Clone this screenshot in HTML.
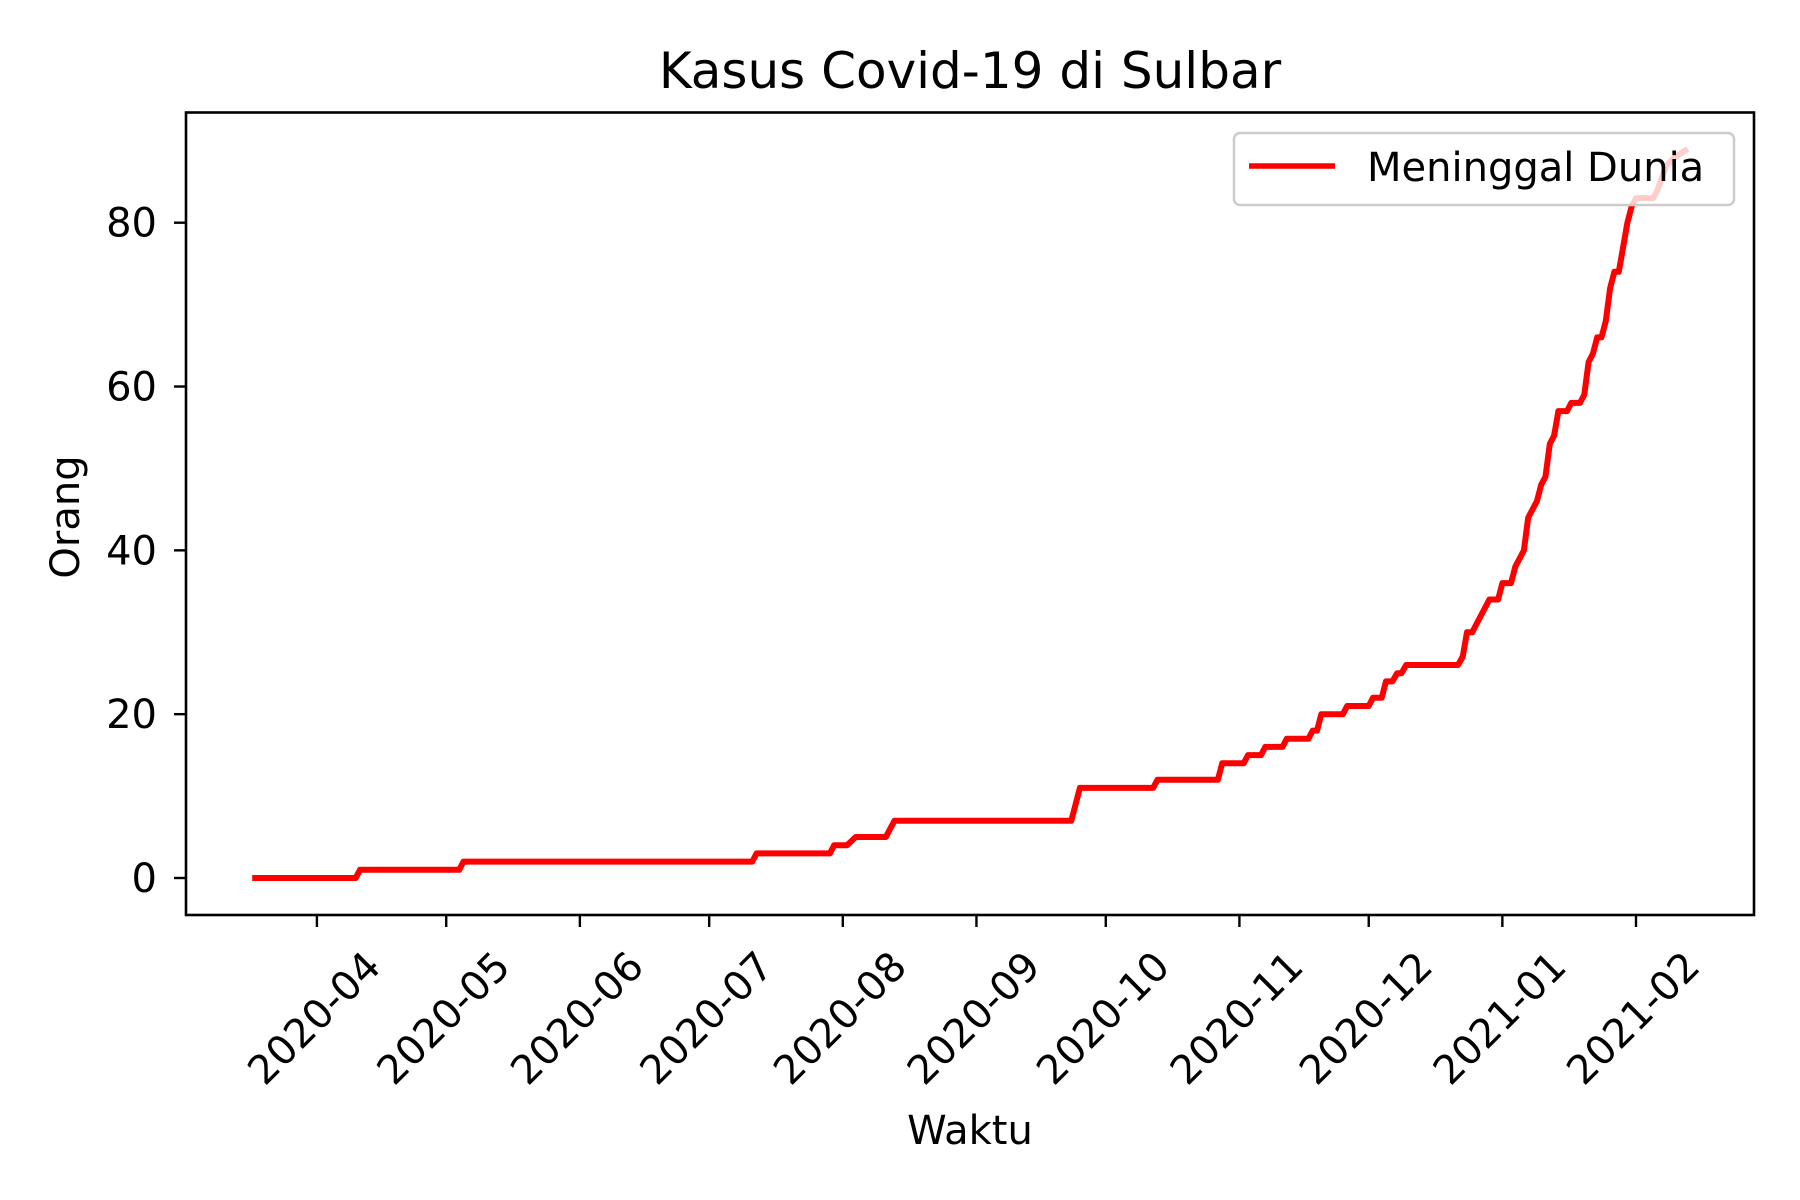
<!DOCTYPE html>
<html><head><meta charset="utf-8"><style>
html,body{margin:0;padding:0;background:#fff;}
svg{display:block;font-family:"DejaVu Sans","Liberation Sans",sans-serif;}
</style></head><body>
<svg id="chart" width="1800" height="1200" viewBox="0 0 1800 1200" xmlns="http://www.w3.org/2000/svg">
<rect width="1800" height="1200" fill="#fff"/>
<text x="970" y="88" font-size="50" text-anchor="middle">Kasus Covid-19 di Sulbar</text>
<g id="lines"></g>
<g id="axes"></g>
<g id="legend">
<rect x="1234" y="133" width="500" height="72" rx="6" fill="#fff" fill-opacity="0.8" stroke="#cccccc" stroke-width="2.5"/>
<line x1="1249" y1="166" x2="1335" y2="166" stroke="#ff0000" stroke-width="5.5"/>
<text x="1367" y="181" font-size="40">Meninggal Dunia</text>
</g>
<rect x="186" y="112.5" width="1568" height="802.5" fill="none" stroke="#000" stroke-width="2.6"/>
<text x="970" y="1144" font-size="40" text-anchor="middle">Waktu</text>
<text x="0" y="0" font-size="40" text-anchor="middle" transform="translate(79,517) rotate(-90)">Orang</text>
</svg>
<script>
// day offsets from 2020-04-01
const days = [-15,9,10,33,34,101,102,119,120,123,125,132,134,175,177,194,195,209,210,215,216,219,220,224,225,230,231,232,233,238,239,244,245,247,248,249.5,250.6,251.6,252.7,264.7,265.8,266.8,268,270,272,274,275,277,278,280,281,283,284,285,286,287,288,290,291,293,294,295,296,297,298,299,300,301,302,303,304,305,306,310,311,313,315,318];
const deaths = [0,0,1,1,2,2,3,3,4,4,5,5,7,7,11,11,12,12,14,14,15,15,16,16,17,17,18,18,20,20,21,21,22,22,24,24,25,25,26,26,27,30,30,32,34,34,36,36,38,40,44,46,48,49,53,54,57,57,58,58,59,63,64,66,66,68,72,74,74,77,80,82,83,83,84,87,88,89];
const yTicks = [0,20,40,60,80];
const xTickLabels = ["2020-04","2020-05","2020-06","2020-07","2020-08","2020-09","2020-10","2020-11","2020-12","2021-01","2021-02"];
const xTickDays = [0,30,61,91,122,153,183,214,244,275,306];

const NS = "http://www.w3.org/2000/svg";
const xS = d => 316.9 + d * (1636 - 316.9) / 306;
const yS = v => 878 - v * (878 - 222.7) / 80;
const axes = document.getElementById('axes');
const lines = document.getElementById('lines');

let dstr = days.map((d,i)=> (i?'L':'M') + xS(d).toFixed(1) + ' ' + yS(deaths[i]).toFixed(1)).join(' ');
const p = document.createElementNS(NS,'path');
p.setAttribute('d', dstr);
p.setAttribute('fill','none');
p.setAttribute('stroke','#ff0000');
p.setAttribute('stroke-width','6');
p.setAttribute('stroke-linejoin','round');


lines.appendChild(p);

yTicks.forEach(v=>{
  const y = yS(v);
  const t = document.createElementNS(NS,'line');
  t.setAttribute('x1',186); t.setAttribute('x2',174); t.setAttribute('y1',y); t.setAttribute('y2',y);
  t.setAttribute('stroke','#000'); t.setAttribute('stroke-width','2.4');
  
  
  axes.appendChild(t);
  const tx = document.createElementNS(NS,'text');
  tx.setAttribute('x',157); tx.setAttribute('y',y+14);
  tx.setAttribute('font-size','40'); tx.setAttribute('text-anchor','end');
  tx.textContent = v;
  
  
  axes.appendChild(tx);
});
xTickDays.forEach((d,i)=>{
  const x = xS(d);
  const t = document.createElementNS(NS,'line');
  t.setAttribute('x1',x); t.setAttribute('x2',x); t.setAttribute('y1',915); t.setAttribute('y2',927);
  t.setAttribute('stroke','#000'); t.setAttribute('stroke-width','2.4');
  
  
  axes.appendChild(t);
  const tx = document.createElementNS(NS,'text');
  tx.setAttribute('x',0); tx.setAttribute('y',14);
  tx.setAttribute('font-size','40'); tx.setAttribute('text-anchor','middle');
  tx.setAttribute('transform','translate('+(x-3).toFixed(1)+',1018) rotate(-45)');
  tx.textContent = xTickLabels[i];
  
  
  axes.appendChild(tx);
});
</script>
</body></html>
